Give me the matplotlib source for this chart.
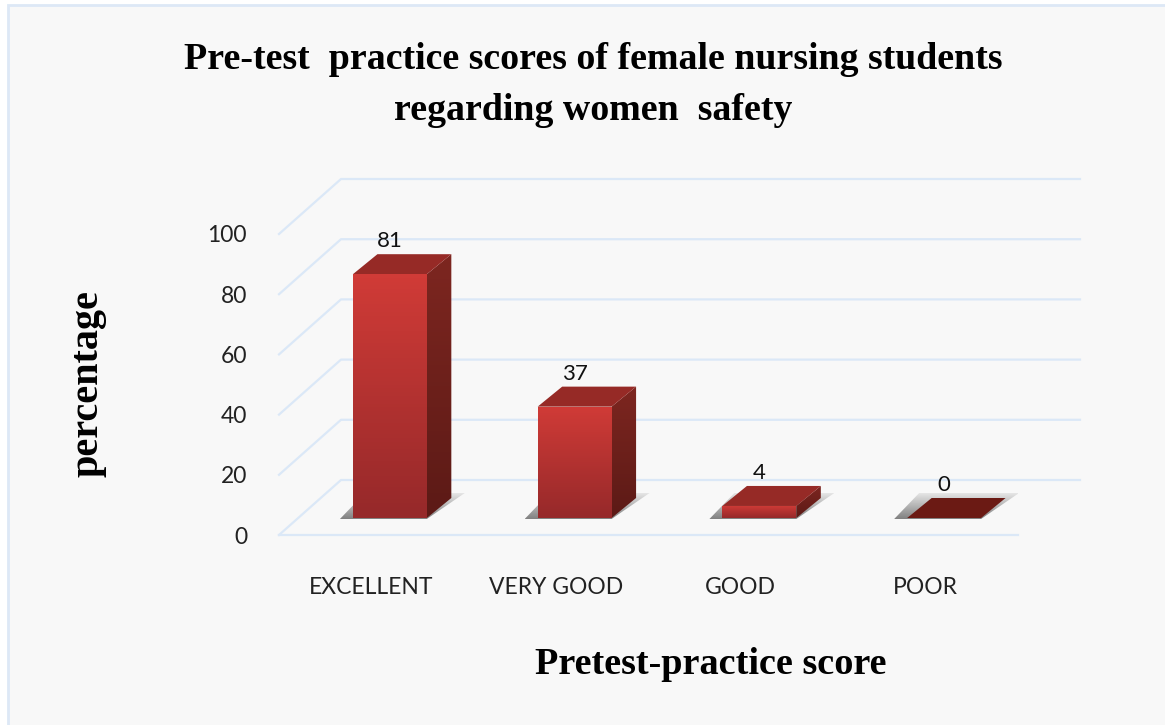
import numpy as np
import matplotlib
matplotlib.use("Agg")
import matplotlib.pyplot as plt
from matplotlib.patches import Polygon, Rectangle
from matplotlib.transforms import IdentityTransform
from matplotlib.colors import LinearSegmentedColormap

# values
categories = ["EXCELLENT", "VERY GOOD", "GOOD", "POOR"]
percentages = [81, 37, 4, 0]
y_ticks = [0, 20, 40, 60, 80, 100]

title = "Pre-test  practice scores of female nursing students\nregarding women  safety"
x_title = "Pretest-practice score"
y_title = "percentage"

W, H = 1165, 725
DPI = 100
BG = "#f8f8f8"
GRID = "#dbe8f7"
SERIF = "Liberation Serif"
LABEL_FONT = "Lato"

fig = plt.figure(figsize=(W / DPI, H / DPI), dpi=DPI, facecolor="white")

# chart area background with its thin blue border
fig.patches.append(Rectangle((8 / W, -0.02), 1.1, (725 - 5) / 725 + 0.02, transform=fig.transFigure,
                             facecolor=BG, edgecolor="#dde8f6", linewidth=2, zorder=-1))

# front plane of the fake 3d box: y=0 at pixel row 535, y=100 at row 234
ax = fig.add_axes([279 / W, (H - 535) / H, 739 / W, 301 / H])
ax.set_xlim(-0.5, 3.5)
ax.set_ylim(0, 100)
ax.patch.set_visible(False)
for s in ax.spines.values():
    s.set_visible(False)
ax.tick_params(length=0)

# offsets in pixels for the 3d look
WALL = (62, 55)
BAR_FRONT = (18.5, 17)
BAR_DEPTH = (24.5, 20)
BAR_W = 0.4


def px(x, y, off=(0, 0)):
    p = ax.transData.transform((x, y))
    return p[0] + off[0], p[1] + off[1]


def poly(points, **kw):
    kw.setdefault("linewidth", 0)
    ax.add_patch(Polygon(points, closed=True, transform=IdentityTransform(), clip_on=False, **kw))


# gridlines: along the back wall and the diagonals on the left side
xmin, xmax = ax.get_xlim()
for v in y_ticks:
    a = px(xmin, v)
    b = px(xmin, v, WALL)
    c = px(xmax, v, WALL)
    ax.plot([a[0], b[0], c[0]], [a[1], b[1], c[1]], color=GRID, lw=1.6,
            transform=IdentityTransform(), clip_on=False, zorder=1)
a, b = px(xmin, 0), px(xmax, 0)
ax.plot([a[0], b[0]], [a[1], b[1]], color=GRID, lw=1.6, transform=IdentityTransform(), clip_on=False, zorder=1)

front_cmap = LinearSegmentedColormap.from_list("front", ["#d03b37", "#96292a"])
side_cmap = LinearSegmentedColormap.from_list("side", ["#7d2620", "#5c1a16"])
shadow_cmap = LinearSegmentedColormap.from_list("shadow", [(0.35, 0.35, 0.35, 0.12), (0.35, 0.35, 0.35, 0.75)])


def vgrad(cmap, pts, zorder):
    # paints a vertical colour gradient clipped to a polygon given in pixels
    ys = [p[1] for p in pts]
    xs = [p[0] for p in pts]
    im = ax.imshow(np.linspace(0, 1, 64)[:, None], cmap=cmap, aspect="auto",
                   extent=[min(xs), max(xs), min(ys), max(ys)], origin="upper",
                   transform=IdentityTransform(), zorder=zorder)
    clip = Polygon(pts, closed=True, transform=IdentityTransform(), facecolor="none", linewidth=0)
    ax.add_patch(clip)
    im.set_clip_path(clip)


for i, val in enumerate(percentages):
    l, r = i - BAR_W / 2, i + BAR_W / 2
    fl0 = px(l, 0, BAR_FRONT)
    fr0 = px(r, 0, BAR_FRONT)
    fl1 = px(l, val, BAR_FRONT)
    fr1 = px(r, val, BAR_FRONT)
    dx, dy = BAR_DEPTH

    # floor shadow, darker next to the base
    vgrad(shadow_cmap, [(fl0[0] - 13, fl0[1] - 1), (fr0[0], fr0[1] - 1),
                        (fr0[0] + 38, fr0[1] + 25), (fl0[0] + 12, fl0[1] + 25)], 2)

    if val == 0:
        poly([fl0, fr0, (fr0[0] + dx, fr0[1] + dy), (fl0[0] + dx, fl0[1] + dy)], facecolor="#6b1a14", zorder=3)
    else:
        vgrad(side_cmap, [fr0, (fr0[0] + dx, fr0[1] + dy), (fr1[0] + dx, fr1[1] + dy), fr1], 3)
        poly([fl1, fr1, (fr1[0] + dx, fr1[1] + dy), (fl1[0] + dx, fl1[1] + dy)], facecolor="#962a26", zorder=3)
        vgrad(front_cmap, [fl0, fr0, fr1, fl1], 4)

    ax.annotate(str(val), xy=(i, val), xytext=(BAR_FRONT[0], BAR_FRONT[1] + 33), textcoords="offset pixels",
                ha="center", va="center", fontsize=16, family=LABEL_FONT, color="#111111", zorder=6)

ax.set_xlim(xmin, xmax)
ax.set_ylim(0, 100)

ax.set_xticks(range(len(categories)))
ax.set_xticklabels(categories, family=LABEL_FONT, fontsize=16.5, color="#222222")
ax.set_yticks(y_ticks)
ax.set_yticklabels(y_ticks, family=LABEL_FONT, fontsize=16.5, color="#222222")
ax.tick_params(axis="x", pad=30)
ax.tick_params(axis="y", pad=23)

fig.text(593 / W, 1 - 85 / H, title, ha="center", va="center", family=SERIF, weight="bold",
         fontsize=27.3, linespacing=1.57, color="black")
fig.text(711 / W, 1 - 665 / H, x_title, ha="center", va="center", family=SERIF, weight="bold",
         fontsize=27.5, color="black")
fig.text(88 / W, 1 - 384 / H, y_title, ha="center", va="center", rotation=90, family=SERIF, weight="bold",
         fontsize=29, color="black")

fig.savefig("out.png", dpi=DPI, facecolor=fig.get_facecolor())
